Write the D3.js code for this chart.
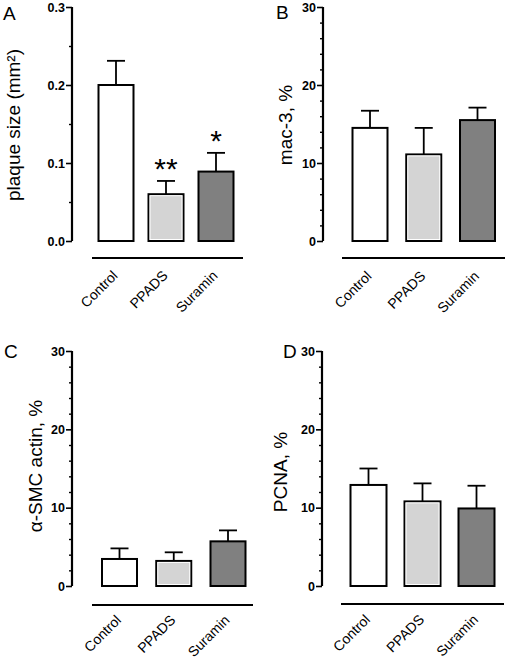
<!DOCTYPE html>
<html><head><meta charset="utf-8">
<script src="https://cdn.jsdelivr.net/npm/d3@7"></script>
<style>
body{margin:0;background:#fff;}
svg{display:block;font-family:"Liberation Sans",Arial,sans-serif;}
</style></head>
<body><svg id="c" width="507" height="659"></svg>
<script>
// ---- data ----
const categories = ["Control", "PPADS", "Suramin"];
const barColors = ["#ffffff", "#d4d4d4", "#808080"];
const plaqueMean = [0.200, 0.060, 0.089];
const plaqueSEM  = [0.031, 0.017, 0.024];
const mac3Mean   = [14.5, 11.1, 15.5];
const mac3SEM    = [2.2, 3.4, 1.6];
const smcMean    = [3.45, 3.2, 5.7];
const smcSEM     = [1.35, 1.1, 1.4];
const pcnaMean   = [12.9, 10.8, 9.9];
const pcnaSEM    = [2.1, 2.3, 2.9];
const plaqueStars = ["", "**", "*"];
const plaqueTicks = [0.0, 0.1, 0.2, 0.3];
const plaqueMinor = [0.05, 0.15, 0.25];
const pctTicks = [0, 10, 20, 30];
const pctMinor = [2, 4, 6, 8, 12, 14, 16, 18, 22, 24, 26, 28];

// ---- layout ----
const panels = [
  {letter:"A", lx:3, ly:20, ax:72, y0:241, y1:7, max:0.3, fmt:d3.format(".1f"), ticks:plaqueTicks, minor:plaqueMinor,
   mean:plaqueMean, sem:plaqueSEM, stars:plaqueStars, c0:116, c1:216, bw:35, lineY:258, lineX0:92, lineX1:243,
   labDY:18.5, label:"plaque size (mm²)", labX:15, labY:125},
  {letter:"B", lx:276, ly:19, ax:323, y0:241, y1:7, max:30, fmt:d3.format("d"), ticks:pctTicks, minor:pctMinor,
   mean:mac3Mean, sem:mac3SEM, stars:null, c0:370, c1:477.5, bw:35, lineY:258, lineX0:342, lineX1:505,
   labDY:19, label:"mac-3, %", labX:287, labY:125},
  {letter:"C", lx:4, ly:358, ax:72, y0:586, y1:351, max:30, fmt:d3.format("d"), ticks:pctTicks, minor:pctMinor,
   mean:smcMean, sem:smcSEM, stars:null, c0:119.5, c1:228, bw:35, lineY:605, lineX0:92, lineX1:253,
   labDY:16, label:"α-SMC actin, %", labX:37, labY:466},
  {letter:"D", lx:283, ly:358, ax:322, y0:586, y1:351, max:30, fmt:d3.format("d"), ticks:pctTicks, minor:pctMinor,
   mean:pcnaMean, sem:pcnaSEM, stars:null, c0:368.5, c1:476.5, bw:36, lineY:604, lineX0:341, lineX1:504,
   labDY:16.5, label:"PCNA, %", labX:282, labY:472}
];

const svg = d3.select("#c");

panels.forEach(p => {
  const g = svg.append("g");
  const y = d3.scaleLinear().domain([0, p.max]).range([p.y0, p.y1]);
  const x = d3.scalePoint().domain(categories).range([p.c0, p.c1]);

  // panel letter
  g.append("text").attr("x", p.lx).attr("y", p.ly).attr("font-size", 19).text(p.letter);

  // y axis major
  const ax = g.append("g").attr("transform", `translate(${p.ax},0)`)
    .call(d3.axisLeft(y).tickValues(p.ticks).tickFormat(p.fmt).tickSize(6).tickPadding(1));
  ax.select(".domain").attr("stroke-width", 2.2).attr("d", `M0,${p.y0}V${p.y1}`);
  ax.selectAll(".tick line").attr("stroke-width", 1.6);
  ax.selectAll(".tick text").attr("font-size", 12.5).attr("font-weight", "bold")
    .attr("font-family", "Liberation Sans, Arial, sans-serif").attr("fill", "#000");
  // minor ticks
  const mn = g.append("g").attr("transform", `translate(${p.ax},0)`)
    .call(d3.axisLeft(y).tickValues(p.minor).tickFormat("").tickSize(3));
  mn.select(".domain").remove();
  mn.selectAll(".tick line").attr("stroke-width", 1.4);

  // y label
  g.append("text").attr("transform", `translate(${p.labX},${p.labY}) rotate(-90)`)
    .attr("text-anchor", "middle").attr("dominant-baseline", "middle")
    .attr("font-size", 19).text(p.label);

  // bars
  categories.forEach((c, i) => {
    const cx = x(c), top = y(p.mean[i]), errTop = y(p.mean[i] + p.sem[i]);
    // error bar (upper only)
    g.append("line").attr("x1", cx).attr("x2", cx).attr("y1", top).attr("y2", errTop)
      .attr("stroke", "#000").attr("stroke-width", 1.8);
    g.append("line").attr("x1", cx - 9).attr("x2", cx + 9).attr("y1", errTop).attr("y2", errTop)
      .attr("stroke", "#000").attr("stroke-width", 1.8);
    g.append("rect").attr("x", cx - p.bw / 2).attr("y", top)
      .attr("width", p.bw).attr("height", y(0) - top)
      .attr("fill", barColors[i]).attr("stroke", "#000").attr("stroke-width", 2);
    if (i === 1) {
      g.append("rect").attr("x", cx - p.bw / 2 + 1.5).attr("y", top + 1.5)
        .attr("width", p.bw - 3).attr("height", y(0) - top - 3)
        .attr("fill", "none").attr("stroke", "#fff").attr("stroke-width", 1);
    }
    if (p.stars && p.stars[i]) {
      const fs = 30;
      g.append("text").attr("x", cx).attr("y", errTop - 19 + 0.58 * fs)
        .attr("text-anchor", "middle").attr("font-size", fs).attr("font-weight", 300).text(p.stars[i]);
    }
    // category label
    g.append("text").attr("transform", `translate(${cx + 2.5},${p.lineY + p.labDY}) rotate(-45)`)
      .attr("text-anchor", "end").attr("font-size", 14).text(c);
  });

  // separate x-axis line
  g.append("line").attr("x1", p.lineX0).attr("x2", p.lineX1).attr("y1", p.lineY).attr("y2", p.lineY)
    .attr("stroke", "#000").attr("stroke-width", 2);
});
</script></body></html>
